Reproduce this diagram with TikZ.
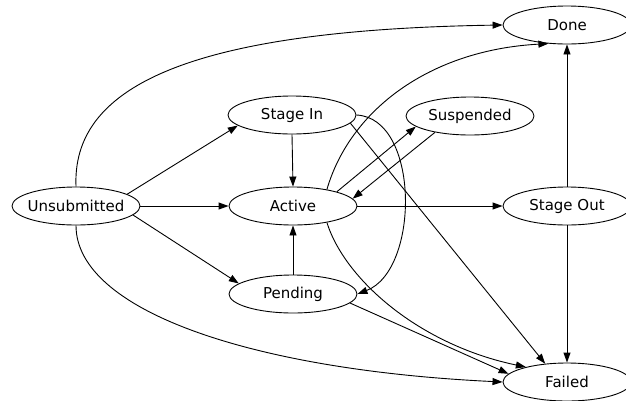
\documentclass[tikz,border=0pt]{standalone}
\usepackage{fontspec}
\setmainfont{DejaVu Sans}
\usetikzlibrary{arrows.meta}
\usetikzlibrary{shapes.geometric}

\begin{document}
\begin{tikzpicture}[x=1pt,y=-1pt,line width=0.9pt]
\tikzstyle{every node}=[draw,ellipse,minimum width=128pt,minimum height=38pt,inner ysep=0pt,inner xsep=-5pt,font=\fontsize{15}{17}\selectfont]
\tikzstyle{tr}=[arrows={-Triangle[length=10pt,width=7pt]}]
\useasboundingbox (0,0) rectangle (626,400);
\node (un) at (76,206) {Unsubmitted};
\node (si) at (292,115) {Stage In};
\node (ac) at (293,206) {Active};
\node (pe) at (293,294) {Pending};
\node (su) at (470,116) {Suspended};
\node (dn) at (567,25) {Done};
\node (so) at (567,206) {Stage Out};
\node (fl) at (567,382) {Failed};
\path[tr] (un.13) edge (si.191)
  (un.east) edge (ac.west)
  (un.-9) edge (pe.169)
  (si.south) edge (ac.north)
  (pe.north) edge (ac.south)
  (ac.18) edge (su.191)
  (su.205) edge (ac.7)
  (ac.east) edge (so.west)
  (so.north) edge (dn.south)
  (so.south) edge (fl.north)
  (si.-8) edge (fl.140)
  (pe.-9) edge (fl.172);
\draw[tr] (un.north) .. controls (72,90) and (180,30) .. (dn.west);
\draw[tr] (un.south) .. controls (76,310) and (250,370) .. (fl.west);
\draw[tr] (si.east) .. controls (420,118) and (420,270) .. (pe.east);
\draw[tr] (ac.26) .. controls (350,110) and (430,50) .. (dn.-135);
\draw[tr] (ac.-26) .. controls (345,280) and (420,345) .. (fl.160);
\end{tikzpicture}
\end{document}
